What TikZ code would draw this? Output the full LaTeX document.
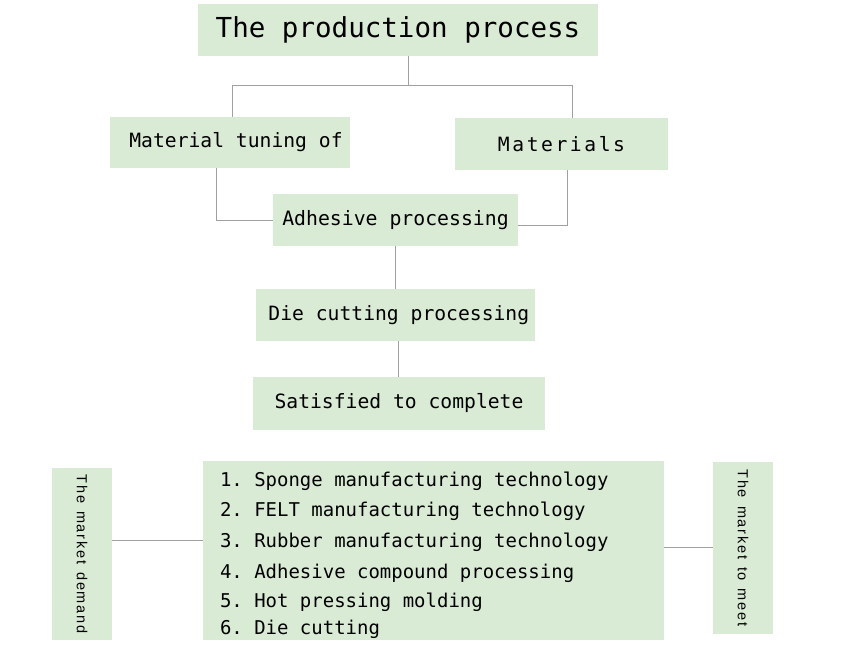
\documentclass[tikz,border=0pt]{standalone}
\usepackage{fontspec}
\usepackage{tikz}
\newfontfamily\boxfont{DejaVu Sans Mono}
\newfontfamily\spacedfont{DejaVu Sans Mono}[LetterSpace=13]
\newfontfamily\sidefont{Liberation Sans}[LetterSpace=12]
\definecolor{boxgreen}{HTML}{DAEBD5}
\definecolor{linkgray}{HTML}{A0A0A0}
\newcommand{\gap}{\hspace{2.4mm}}
\tikzset{box/.style={fill=boxgreen, inner sep=0pt, font=\boxfont}}
\tikzset{sidebox/.style={fill=boxgreen, inner sep=0pt, rotate=-90, minimum width=51.6mm, minimum height=18mm, font=\sidefont\fontsize{12.4}{14}\selectfont}}
\tikzset{link/.style={draw=linkgray, line width=0.8pt}}

\begin{document}
\begin{tikzpicture}[x=0.3mm, y=-0.3mm]
      \useasboundingbox (0,0) rectangle (860,647);

      \node[box, minimum width=120mm, minimum height=15.6mm, font=\boxfont\fontsize{23.5}{28}\selectfont] (title) at (398,30) {The production process};
      \node[box, minimum width=72mm, minimum height=15.3mm, font=\boxfont\fontsize{16.8}{20}\selectfont] (tuning) at (230,142.5) {\hspace{3.6mm}Material tuning of};
      \node[box, minimum width=63.9mm, minimum height=15.6mm, font=\spacedfont\fontsize{16.8}{20}\selectfont] (materials) at (561.5,144) {Materials};
      \node[box, minimum width=73.5mm, minimum height=15.6mm, font=\boxfont\fontsize{16.9}{20}\selectfont] (adhesive) at (395.5,220) {Adhesive processing};
      \node[box, minimum width=83.7mm, minimum height=15.6mm, font=\boxfont\fontsize{16.8}{20}\selectfont] (diecut) at (395.5,315) {\hspace{2mm}Die cutting processing};
      \node[box, minimum width=87.6mm, minimum height=15.9mm, font=\boxfont\fontsize{16.8}{20}\selectfont] (satisfied) at (399,403.5) {Satisfied to complete};

      \node[box, text width=128.1mm, inner xsep=5.1mm, minimum height=53.7mm, align=flush left, font=\boxfont\fontsize{16.2}{25.3}\selectfont\frenchspacing] (list) at (433.5,550.5)
        {\rule{0pt}{21pt}1. Sponge manufacturing technology\\
         2. FELT manufacturing technology\\[1pt]
         3. Rubber manufacturing technology\\[1pt]
         4. Adhesive compound processing\\
         5. Hot pressing molding\\[-2.5pt]
         6. Die cutting};

      \node[sidebox] (demand) at (82,554) {The\gap market\gap demand};
      \node[sidebox] (meet) at (743,548) {The\gap market\gap to\gap meet};

      \draw[link] ([xshift=3mm]title.south) -- ++(0,29) coordinate (split);
      \draw[link] (split) -| ([xshift=0.6mm]tuning.north);
      \draw[link] (split) -| ([xshift=3.2mm]materials.north);
      \draw[link] ([xshift=-4.2mm]tuning.south) |- (adhesive.west);
      \draw[link] ([xshift=1.65mm]materials.south) |- ([yshift=-1.5mm]adhesive.east);
      \draw[link] (adhesive.south) -- (diecut.north);
      \draw[link] ([xshift=0.75mm]diecut.south) -- ([xshift=0.75mm]diecut.south |- satisfied.north);
      \draw[link] ([yshift=3.15mm]list.west) -- ([yshift=3.15mm]list.west -| demand.north);
      \draw[link] ([yshift=1mm]list.east) -- ([yshift=1mm]list.east -| meet.south);
\end{tikzpicture}
\end{document}
